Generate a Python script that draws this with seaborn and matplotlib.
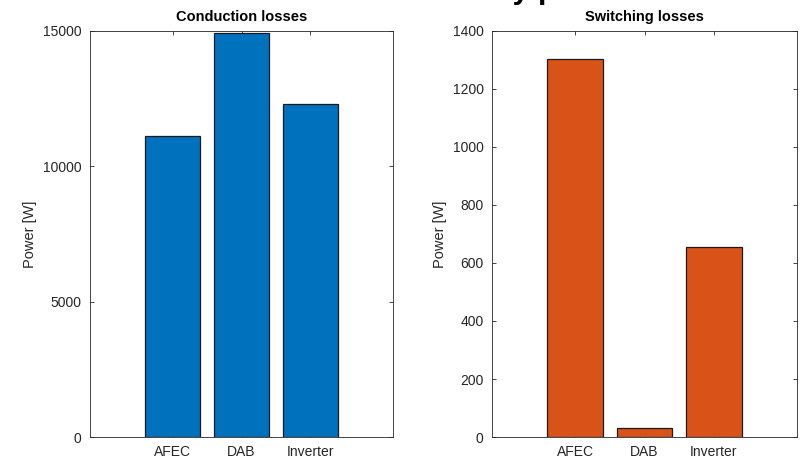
import matplotlib
matplotlib.use("Agg")
import matplotlib.pyplot as plt
import seaborn as sns
import pandas as pd

categories = ["AFEC", "DAB", "Inverter"]
conduction_losses = [11130, 14920, 12310]
switching_losses = [1305, 30, 655]
cond_ticks = [0, 5000, 10000, 15000]
sw_ticks = [0, 200, 400, 600, 800, 1000, 1200, 1400]

sns.set_style("white")
plt.rcParams["font.family"] = ["Liberation Sans", "DejaVu Sans"]

fig = plt.figure(figsize=(8.02, 4.61), dpi=100)
axL = fig.add_axes([90/802, 24/461, 303/802, 406/461])
axR = fig.add_axes([492/802, 24/461, 305/802, 406/461])

df_c = pd.DataFrame({"cat": categories, "val": conduction_losses})
df_s = pd.DataFrame({"cat": categories, "val": switching_losses})

txt = "#262626"
for ax, df, col, ticks, title in [
    (axL, df_c, "#0072BD", cond_ticks, "Conduction losses"),
    (axR, df_s, "#D95319", sw_ticks, "Switching losses"),
]:
    sns.barplot(data=df, x="cat", y="val", color=col, saturation=1, width=0.8,
                edgecolor="#1a1a1a", linewidth=0.9, ax=ax)
    ax.set_xlim(-1.2, 3.2)
    ax.set_ylim(ticks[0], ticks[-1])
    ax.set_yticks(ticks)
    ax.set_xlabel("")
    ax.set_ylabel("Power [W]", fontsize=10.5, color=txt)
    ax.set_title(title, fontsize=10.5, fontweight="bold", color="black", pad=7)
    ax.tick_params(direction="in", length=3, width=0.6, colors=txt,
                   labelsize=10, top=True, right=True, bottom=True, left=True,
                   labelcolor=txt, pad=6)
    for s in ax.spines.values():
        s.set_color("#262626")
        s.set_linewidth(0.6)
        s.set_visible(True)

axL.yaxis.set_label_coords(-0.175, 0.5)
axR.yaxis.set_label_coords(-0.148, 0.5)

fig.text(0.783, 1.005, "Losses by power", ha="right", va="baseline",
         fontsize=22, fontweight="bold", color="black")

fig.savefig("out.png", dpi=100)
